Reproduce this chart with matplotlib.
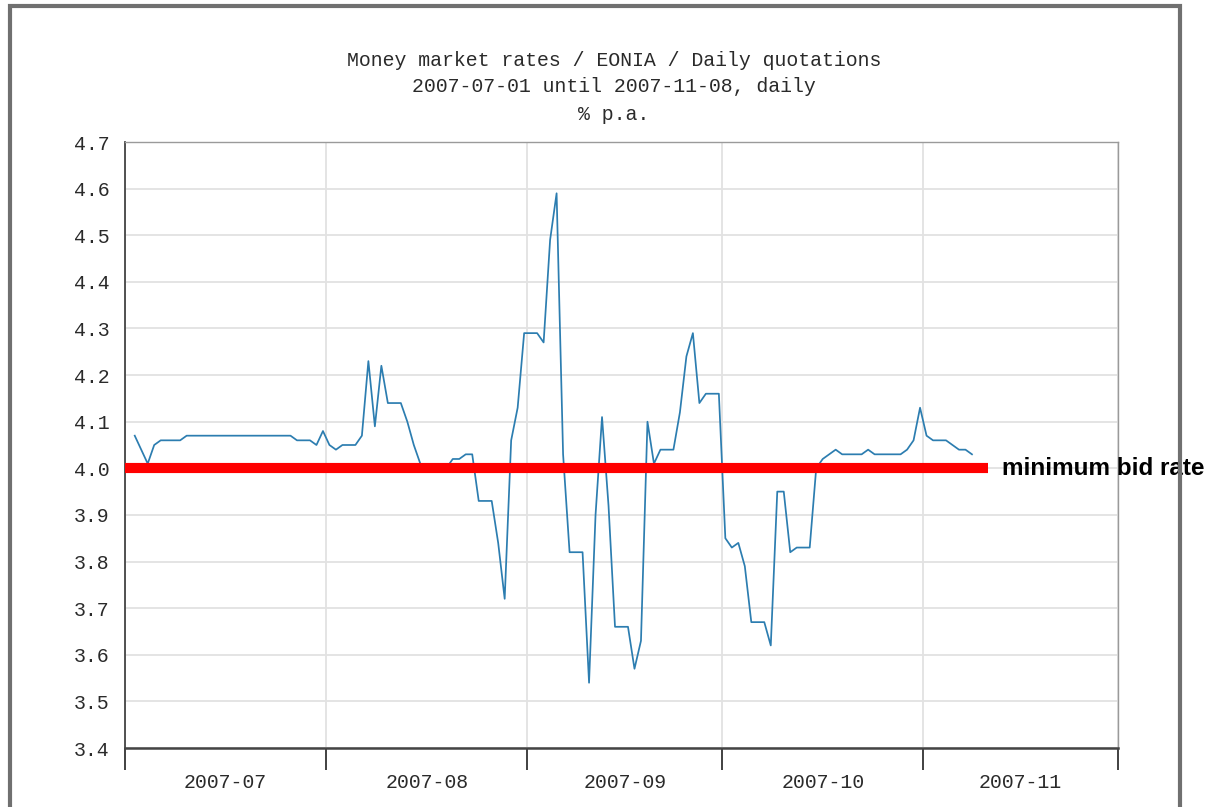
"""
EONIA daily quotations, Jul - Nov 2007, with the ECB minimum bid rate.
"""

import pandas as pd
import matplotlib
matplotlib.use("Agg")
import matplotlib.pyplot as plt
import matplotlib.dates as mdates
from matplotlib.patches import Rectangle

# Chart texts
TITLE_LINES = [
    "Money market rates / EONIA / Daily quotations",
    "2007-07-01 until 2007-11-08, daily",
    "% p.a.",
]
MONTH_LABELS = ["2007-07", "2007-08", "2007-09", "2007-10", "2007-11"]
MONTH_STARTS = ["2007-07-01", "2007-08-01", "2007-09-01", "2007-10-01",
                "2007-11-01", "2007-12-01"]
Y_TICKS = [3.4, 3.5, 3.6, 3.7, 3.8, 3.9, 4.0, 4.1, 4.2, 4.3, 4.4, 4.5, 4.6, 4.7]

# EONIA, one value per calendar day from 2007-07-02 (weekends carry Friday's rate)
START_DATE = "2007-07-02"
EONIA = [
    4.07, 4.04, 4.01, 4.05, 4.06, 4.06, 4.06,   # Jul 02 - Jul 08
    4.06, 4.07, 4.07, 4.07, 4.07, 4.07, 4.07,   # Jul 09 - Jul 15
    4.07, 4.07, 4.07, 4.07, 4.07, 4.07, 4.07,   # Jul 16 - Jul 22
    4.07, 4.07, 4.07, 4.07, 4.06, 4.06, 4.06,   # Jul 23 - Jul 29
    4.05, 4.08, 4.05, 4.04, 4.05, 4.05, 4.05,   # Jul 30 - Aug 05
    4.07, 4.23, 4.09, 4.22, 4.14, 4.14, 4.14,   # Aug 06 - Aug 12
    4.10, 4.05, 4.01, 4.00, 4.00, 4.00, 4.00,   # Aug 13 - Aug 19
    4.02, 4.02, 4.03, 4.03, 3.93, 3.93, 3.93,   # Aug 20 - Aug 26
    3.84, 3.72, 4.06, 4.13, 4.29, 4.29, 4.29,   # Aug 27 - Sep 02
    4.27, 4.49, 4.59, 4.03, 3.82, 3.82, 3.82,   # Sep 03 - Sep 09
    3.54, 3.90, 4.11, 3.92, 3.66, 3.66, 3.66,   # Sep 10 - Sep 16
    3.57, 3.63, 4.10, 4.01, 4.04, 4.04, 4.04,   # Sep 17 - Sep 23
    4.12, 4.24, 4.29, 4.14, 4.16, 4.16, 4.16,   # Sep 24 - Sep 30
    3.85, 3.83, 3.84, 3.79, 3.67, 3.67, 3.67,   # Oct 01 - Oct 07
    3.62, 3.95, 3.95, 3.82, 3.83, 3.83, 3.83,   # Oct 08 - Oct 14
    4.00, 4.02, 4.03, 4.04, 4.03, 4.03, 4.03,   # Oct 15 - Oct 21
    4.03, 4.04, 4.03, 4.03, 4.03, 4.03, 4.03,   # Oct 22 - Oct 28
    4.04, 4.06, 4.13, 4.07, 4.06, 4.06, 4.06,   # Oct 29 - Nov 04
    4.05, 4.04, 4.04, 4.03,                     # Nov 05 - Nov 08
]

# Minimum bid rate reference line
MIN_BID_RATE = 4.00
MIN_BID_START = "2007-07-01"
MIN_BID_END = "2007-11-11"
MIN_BID_LABEL = "minimum bid rate"

MONO = "Liberation Mono"
TEXT_COLOR = "#2a2a2a"
LINE_COLOR = "#2c7db0"
GRID_COLOR = "#e2e2e2"
FS = 14.3

# each daily quote sits in the middle of its day slot
dates = pd.date_range(START_DATE, periods=len(EONIA), freq="D") + pd.Timedelta(hours=12)
month_starts = pd.to_datetime(MONTH_STARTS)
month_mids = month_starts[:-1] + (month_starts[1:] - month_starts[:-1]) / 2

fig = plt.figure(figsize=(12.16, 8.07), dpi=100)
ax = fig.add_axes([125 / 1216, 1 - 748 / 807, (1118 - 125) / 1216, (748 - 142) / 807])

ax.plot(dates, EONIA, color=LINE_COLOR, lw=1.25, zorder=3)
ax.hlines(MIN_BID_RATE, pd.Timestamp(MIN_BID_START), pd.Timestamp(MIN_BID_END),
          color="#ff0000", lw=7.3, zorder=4, clip_on=False)
ax.annotate(MIN_BID_LABEL, xy=(pd.Timestamp(MIN_BID_END), MIN_BID_RATE),
            xytext=(10, 0), textcoords="offset points", ha="left", va="center",
            fontsize=17.5, fontweight="bold", family="Liberation Sans",
            color="black", annotation_clip=False)

ax.set_xlim(month_starts[0], month_starts[-1])
ax.set_ylim(Y_TICKS[0], Y_TICKS[-1])

# y axis
ax.set_yticks(Y_TICKS)
ax.set_yticklabels([f"{v:.1f}" for v in Y_TICKS])
ax.tick_params(axis="y", length=0, pad=11, labelsize=FS, labelcolor=TEXT_COLOR)

# x axis: long ticks at month starts, labels mid-month
ax.set_xticks(month_starts)
ax.set_xticklabels([""] * len(month_starts))
ax.set_xticks(month_mids, minor=True)
ax.set_xticklabels(MONTH_LABELS, minor=True)
ax.tick_params(axis="x", which="major", length=16, width=1.3, color="#333333")
ax.tick_params(axis="x", which="minor", length=0, pad=18, labelsize=FS,
               labelcolor=TEXT_COLOR)
for lbl in ax.get_xticklabels(minor=True) + ax.get_yticklabels():
    lbl.set_family(MONO)

ax.grid(True, which="major", color=GRID_COLOR, lw=1.3, zorder=0)
ax.set_axisbelow(True)

ax.spines["left"].set_color("#444444")
ax.spines["left"].set_linewidth(1.3)
ax.spines["bottom"].set_color("#444444")
ax.spines["bottom"].set_linewidth(1.8)
ax.spines["top"].set_color("#9a9a9a")
ax.spines["top"].set_linewidth(1.0)
ax.spines["right"].set_color("#9a9a9a")
ax.spines["right"].set_linewidth(1.0)

# three centred title lines
for i, line in enumerate(TITLE_LINES):
    fig.text(614 / 1216, 1 - (60 + 27 * i) / 807, line, ha="center", va="center",
             family=MONO, fontsize=FS, color=TEXT_COLOR)

# grey frame of the original image (bottom edge runs off the picture)
fig.add_artist(Rectangle((10 / 1216, -0.05), (1180 - 10) / 1216, 1.05 - 6 / 807,
                         transform=fig.transFigure, fill=False,
                         ec="#707070", lw=3.0))

fig.savefig("out.png", dpi=100, facecolor="white")
